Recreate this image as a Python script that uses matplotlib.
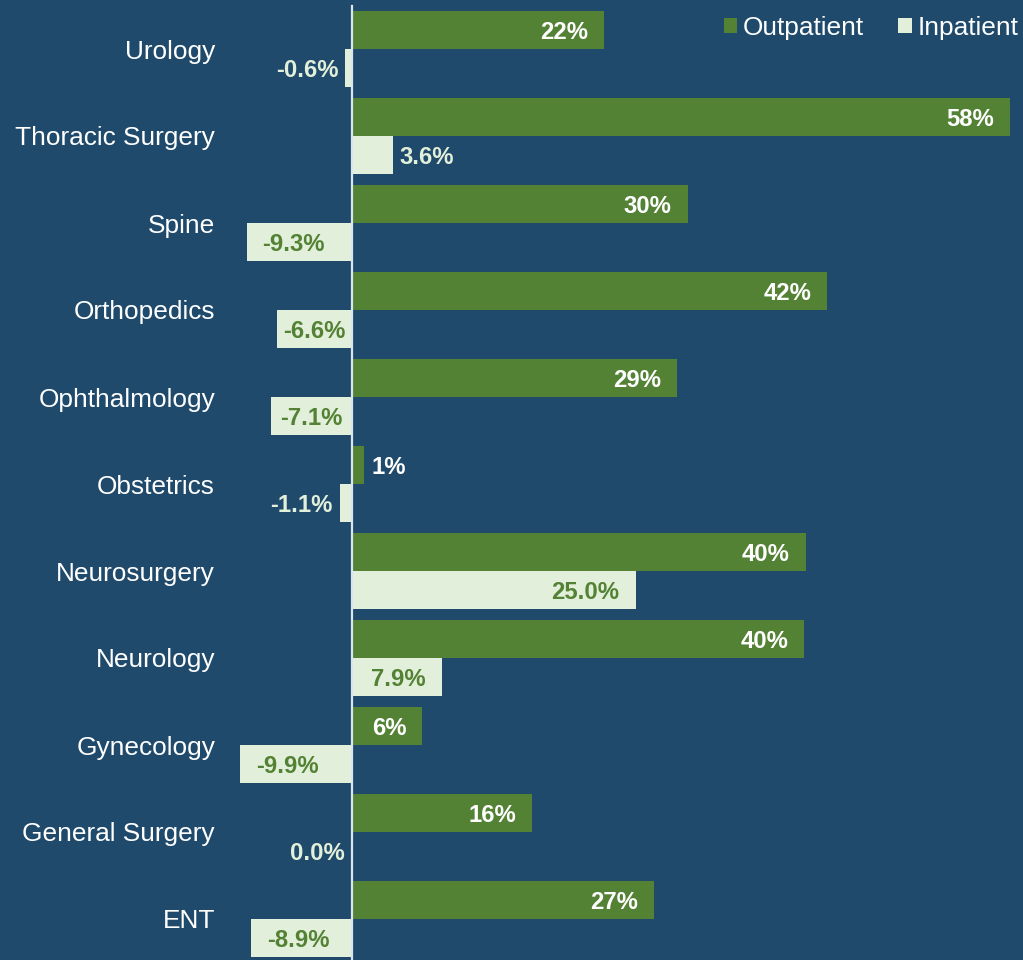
import matplotlib
matplotlib.use("Agg")
import matplotlib.pyplot as plt
from matplotlib.patches import Patch

# Year-over-year volume change by service line
categories = ["Urology", "Thoracic Surgery", "Spine", "Orthopedics", "Ophthalmology",
              "Obstetrics", "Neurosurgery", "Neurology", "Gynecology",
              "General Surgery", "ENT"]
outpatient = [22.2, 58.0, 29.6, 41.9, 28.7, 1.1, 40.0, 39.9, 6.2, 15.9, 26.6]
inpatient = [-0.6, 3.6, -9.3, -6.6, -7.1, -1.1, 25.0, 7.9, -9.9, 0.0, -8.9]
series_names = ["Outpatient", "Inpatient"]

BG = "#1F4A6B"
GREEN = "#548235"
LIGHT = "#E2EFDA"
AXIS = "#D9E6F0"
FONT = "Liberation Sans"

W, H = 1023, 960
fig = plt.figure(figsize=(W / 100, H / 100), dpi=100, facecolor=BG)

# axes geometry (pixels)
zero_px, scale = 352.0, 11.34
xmin, xmax = -10.0, 59.0
left_px = zero_px + xmin * scale
right_px = zero_px + xmax * scale
pitch, first_center = 87.0, 49.0
ax = fig.add_axes([left_px / W, 0, (right_px - left_px) / W, 1])
ax.set_facecolor(BG)
ax.set_xlim(xmin, xmax)
ax.set_ylim((H - first_center) / pitch, -first_center / pitch)

n = len(categories)
bar_h = 38.0 / pitch
off = bar_h / 2
ypos = list(range(n))
ax.barh([y - off for y in ypos], outpatient, height=bar_h, color=GREEN, zorder=2)
ax.barh([y + off for y in ypos], inpatient, height=bar_h, color=LIGHT, zorder=2)

ax.axvline(0, ymin=0, ymax=(H - 6) / H, color=AXIS, lw=1.6, zorder=4)

ax.set_yticks(ypos)
ax.set_yticklabels(categories, fontsize=18.9, color="white", family=FONT)
ax.tick_params(axis="y", length=0, pad=(left_px - 215) * 72 / 100)
ax.set_xticks([])
for sp in ax.spines.values():
    sp.set_visible(False)

fig.canvas.draw()
renderer = fig.canvas.get_renderer()
px_per_unit = ax.bbox.width / (xmax - xmin)
label_drop = 2.5 / pitch  # labels sit slightly below the bar centre


def place(value, y, fmt, in_color, out_color):
    t = ax.text(0, y + label_drop, fmt.format(value), ha="center", va="center",
                fontsize=17.2, fontweight="bold", family=FONT, zorder=5)
    w = t.get_window_extent(renderer).width
    wd = w / px_per_unit
    pad_in = 16 / px_per_unit
    pad_out = 7 / px_per_unit
    sign = 1 if value > 0 else -1
    if abs(value) * px_per_unit >= w + 8:
        cx = value - sign * (pad_in + wd / 2)
        if sign * (cx - sign * wd / 2) < 3 / px_per_unit:
            cx = value / 2
        t.set_color(in_color)
    else:
        cx = value + sign * (pad_out + wd / 2)
        t.set_color(out_color)
    t.set_x(cx)


for y, v in zip(ypos, outpatient):
    place(v, y - off, "{:.0f}%", "white", "white")
for y, v in zip(ypos, inpatient):
    place(v, y + off, "{:.1f}%", GREEN, LIGHT)

handles = [Patch(facecolor=GREEN), Patch(facecolor=LIGHT)]
fig.legend(handles, series_names, loc="center right",
           bbox_to_anchor=(1019 / W, 1 - 28 / H), bbox_transform=fig.transFigure,
           ncol=2, frameon=False, borderpad=0, borderaxespad=0,
           handlelength=0.53, handleheight=0.53, handletextpad=0.22,
           columnspacing=1.3,
           prop={"family": FONT, "size": 18.9}, labelcolor="white")

fig.savefig("out.png", dpi=100, facecolor=BG)
